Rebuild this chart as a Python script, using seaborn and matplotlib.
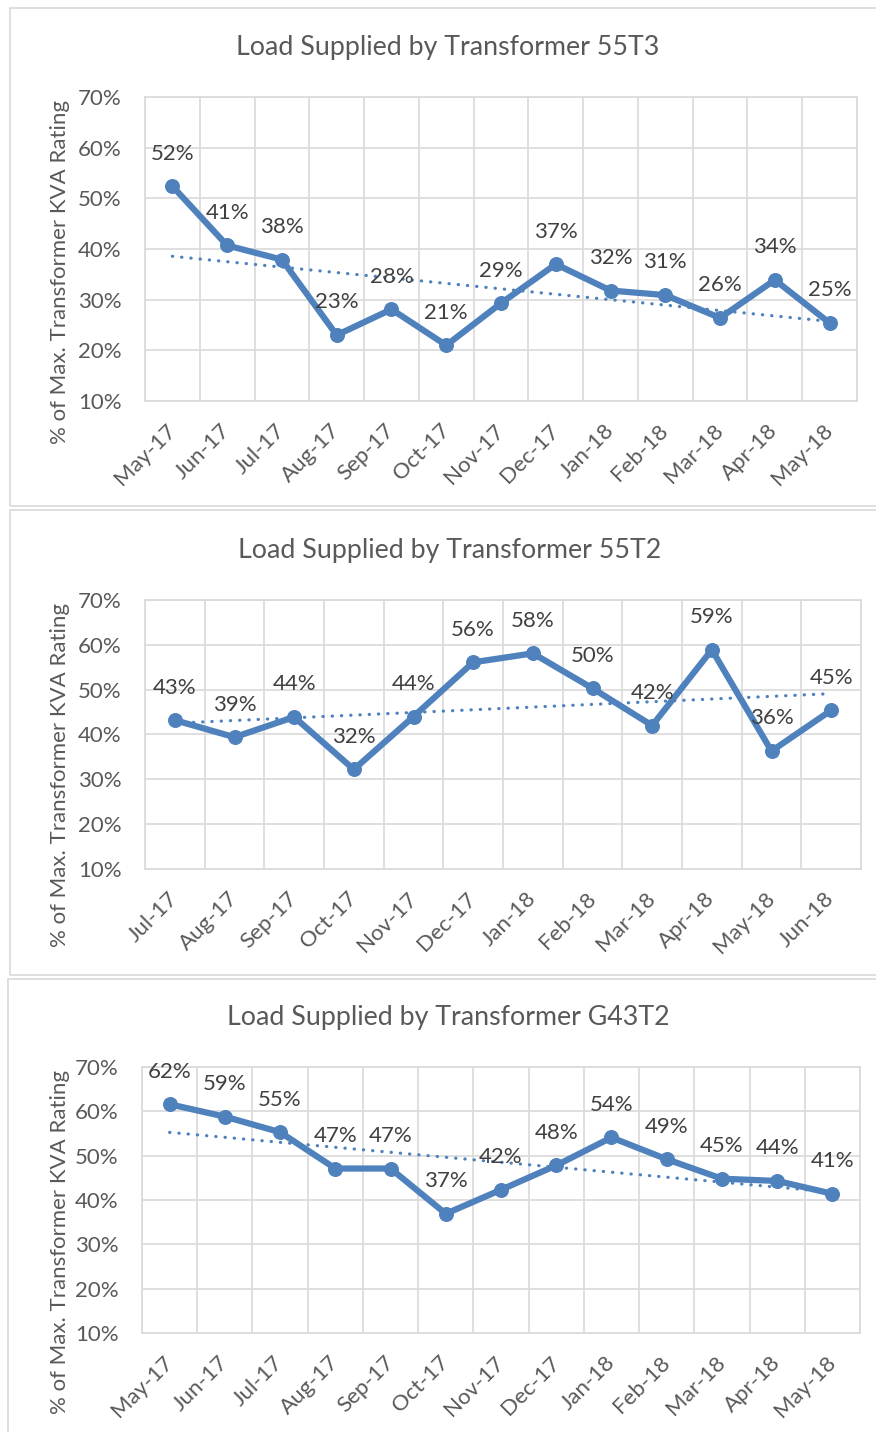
import matplotlib
matplotlib.use("Agg")
import matplotlib.pyplot as plt
import matplotlib.patches as mpatches
import matplotlib.transforms as mtransforms
import seaborn as sns
import pandas as pd
import numpy as np

# ---------------- data ----------------
months_55T3 = ['May-17', 'Jun-17', 'Jul-17', 'Aug-17', 'Sep-17', 'Oct-17', 'Nov-17',
               'Dec-17', 'Jan-18', 'Feb-18', 'Mar-18', 'Apr-18', 'May-18']
load_55T3 = [52.4, 40.7, 37.9, 23.0, 28.1, 21.0, 29.3, 37.0, 31.8, 30.9, 26.4, 33.9, 25.4]

months_55T2 = ['Jul-17', 'Aug-17', 'Sep-17', 'Oct-17', 'Nov-17', 'Dec-17',
               'Jan-18', 'Feb-18', 'Mar-18', 'Apr-18', 'May-18', 'Jun-18']
load_55T2 = [43.2, 39.4, 43.9, 32.2, 44.0, 56.1, 58.1, 50.3, 42.0, 58.9, 36.3, 45.4]

months_G43T2 = ['May-17', 'Jun-17', 'Jul-17', 'Aug-17', 'Sep-17', 'Oct-17', 'Nov-17',
                'Dec-17', 'Jan-18', 'Feb-18', 'Mar-18', 'Apr-18', 'May-18']
load_G43T2 = [61.6, 58.8, 55.3, 47.1, 47.1, 36.9, 42.3, 47.8, 54.1, 49.2, 44.8, 44.3, 41.4]

titles = ['Load Supplied by Transformer 55T3',
          'Load Supplied by Transformer 55T2',
          'Load Supplied by Transformer G43T2']
y_ticks = [10, 20, 30, 40, 50, 60, 70]
y_label = '% of Max. Transformer KVA Rating'

# ---------------- style ----------------
sns.set_style("white")
plt.rcParams['font.family'] = ['Lato', 'DejaVu Sans']

W, H = 876, 1432
fig = plt.figure(figsize=(W / 100, H / 100), dpi=100)

BLUE = '#4F81BD'
GRID = '#D9D9D9'
TXT = '#595959'
LBL = '#404040'
FS = 16


def fx(x):
    return x / W


def fy(y):
    return 1 - y / H


panels = [
    dict(months=months_55T3, vals=load_55T3, title=titles[0],
         ax=(145, 857, 97, 401), ty=48, tx=448, yl=272, frame=(10, 8, 506)),
    dict(months=months_55T2, vals=load_55T2, title=titles[1],
         ax=(145, 861, 600, 869), ty=550, tx=450, yl=775, frame=(10, 510, 975)),
    dict(months=months_G43T2, vals=load_G43T2, title=titles[2],
         ax=(142, 860, 1067, 1333), ty=1017, tx=448, yl=1242, frame=(8, 979, 1445)),
]

shift = mtransforms.ScaledTranslation(4 / 100, 0, fig.dpi_scale_trans)

for p in panels:
    l, t, b = p['frame']
    rect = mpatches.Rectangle((fx(l), fy(b)), fx(W + 20) - fx(l), fy(t) - fy(b),
                              transform=fig.transFigure, fill=False,
                              edgecolor=GRID, linewidth=1.2, zorder=0)
    fig.add_artist(rect)

    al, ar, at, ab = p['ax']
    ax = fig.add_axes([fx(al), fy(ab), fx(ar) - fx(al), fy(at) - fy(ab)])
    n = len(p['months'])
    df = pd.DataFrame({'idx': np.arange(n), 'month': p['months'], 'val': p['vals']})

    # linear trendline
    sns.regplot(data=df, x='idx', y='val', ax=ax, scatter=False, ci=None, truncate=True,
                color=BLUE, line_kws=dict(linestyle=(0, (0.1, 2.8)), linewidth=2.3,
                                          dash_capstyle='round', zorder=2))
    # main series
    sns.lineplot(data=df, x='idx', y='val', ax=ax, color=BLUE, linewidth=4.5,
                 marker='o', markersize=10, markeredgecolor=BLUE, zorder=3)

    for i, v in enumerate(p['vals']):
        ax.annotate(f"{round(v):d}%", (i, v), xytext=(0, 23.5), textcoords='offset points',
                    ha='center', va='center', fontsize=FS, color=LBL, zorder=4)

    ax.set_xlim(-0.5, n - 0.5)
    ax.set_ylim(10, 70)
    ax.set_yticks(y_ticks)
    ax.set_yticklabels([f"{v}%" for v in y_ticks])
    ax.set_xticks(np.arange(n))
    ax.set_xticklabels(p['months'], rotation=45, ha='right', va='center',
                       rotation_mode='anchor')
    for lab in ax.get_xticklabels():
        lab.set_transform(lab.get_transform() + shift)
    ax.set_xticks(np.arange(n + 1) - 0.5, minor=True)
    ax.tick_params(axis='x', which='major', length=0, pad=19, labelsize=FS, labelcolor=TXT)
    ax.tick_params(axis='x', which='minor', length=7, width=1.2, color=GRID, direction='out')
    ax.tick_params(axis='y', which='major', length=0, pad=17, labelsize=FS, labelcolor=TXT)
    ax.grid(True, axis='y', which='major', color=GRID, linewidth=1.2)
    ax.grid(True, axis='x', which='minor', color=GRID, linewidth=1.2)
    ax.grid(False, axis='x', which='major')
    for s in ax.spines.values():
        s.set_color(GRID)
        s.set_linewidth(1.2)
    ax.set_xlabel('')
    ax.set_ylabel('')
    ax.set_axisbelow(True)

    fig.text(fx(p['tx']), fy(p['ty']), p['title'], ha='center', va='center',
             fontsize=19.3, color=TXT)
    fig.text(fx(60), fy(p['yl']), y_label, rotation=90, ha='center', va='center',
             fontsize=FS, color=TXT)

fig.savefig('out.png', dpi=100, facecolor='white')
